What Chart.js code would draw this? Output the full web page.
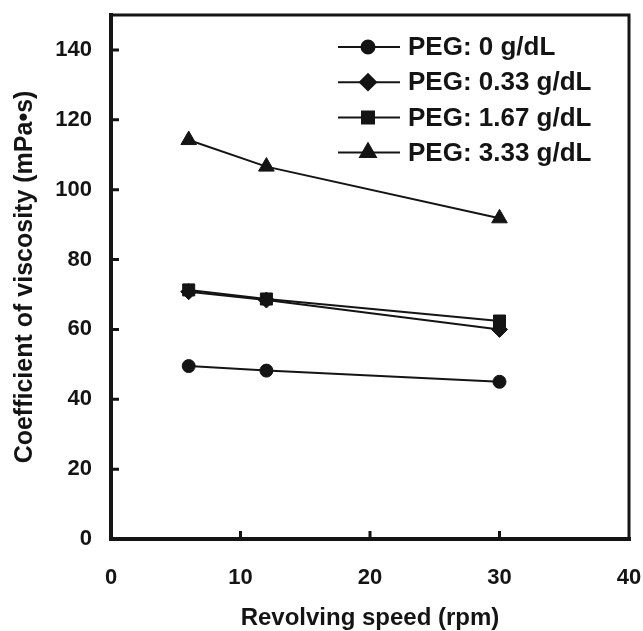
<!DOCTYPE html>
<html>
<head>
<meta charset="utf-8">
<script src="https://cdn.jsdelivr.net/npm/chart.js@4.4.1/dist/chart.umd.min.js"></script>
<style>
  html, body { margin: 0; padding: 0; background: #fff; }
</style>
</head>
<body>
<canvas id="viscosity" width="643" height="631"></canvas>
<script>
// values
var speeds = [6, 12, 30];
var peg0 = [49.5, 48.2, 45.0];
var peg033 = [70.8, 68.4, 60.0];
var peg167 = [71.3, 68.7, 62.4];
var peg333 = [114.2, 106.6, 91.8];
var seriesLabels = ['PEG: 0 g/dL', 'PEG: 0.33 g/dL', 'PEG: 1.67 g/dL', 'PEG: 3.33 g/dL'];
var xTicks = [0, 10, 20, 30, 40];
var yTicks = [0, 20, 40, 60, 80, 100, 120, 140];

var ink = '#141414';
var fontFamily = '"Liberation Sans", Arial, sans-serif';

function toPoints(values) {
  return speeds.map(function(s, i) { return {x: s, y: values[i]}; });
}

function series(label, values, style, radius) {
  return {
    label: label,
    data: toPoints(values),
    borderColor: ink,
    backgroundColor: ink,
    borderWidth: 2,
    pointStyle: style,
    pointRadius: radius,
    pointBorderWidth: 1,
    tension: 0,
    fill: false
  };
}

// box around the plot plus inward tick marks
var frame = {
  id: 'frame',
  afterDatasetsDraw: function(chart) {
    var ctx = chart.ctx, a = chart.chartArea;
    var xs = chart.scales.x, ys = chart.scales.y;
    ctx.save();
    ctx.strokeStyle = ink;
    ctx.lineCap = 'square';
    ctx.lineWidth = 3;
    ctx.beginPath();
    ctx.moveTo(a.left, a.top); ctx.lineTo(a.right, a.top); ctx.lineTo(a.right, a.bottom);
    ctx.stroke();
    ctx.lineWidth = 4;
    ctx.beginPath();
    ctx.moveTo(a.left, a.top); ctx.lineTo(a.left, a.bottom); ctx.lineTo(a.right, a.bottom);
    ctx.stroke();
    ctx.lineWidth = 3;
    ctx.lineCap = 'butt';
    ctx.beginPath();
    yTicks.slice(1).forEach(function(v) {
      var p = ys.getPixelForValue(v);
      ctx.moveTo(a.left, p); ctx.lineTo(a.left + 8, p);
    });
    xTicks.slice(1, -1).forEach(function(v) {
      var p = xs.getPixelForValue(v);
      ctx.moveTo(p, a.bottom); ctx.lineTo(p, a.bottom - 8);
    });
    ctx.stroke();
    ctx.restore();
  }
};

// legend with the marker sitting on a short line
var lineLegend = {
  id: 'lineLegend',
  afterDraw: function(chart) {
    var ctx = chart.ctx;
    ctx.save();
    chart.data.datasets.forEach(function(ds, i) {
      var y = 47 + i * 35.2;
      ctx.strokeStyle = ink;
      ctx.lineWidth = 2;
      ctx.beginPath();
      ctx.moveTo(338, y); ctx.lineTo(400, y);
      ctx.stroke();
      ctx.fillStyle = ink;
      Chart.helpers.drawPoint(ctx, {pointStyle: ds.pointStyle, radius: ds.pointRadius, borderWidth: 1}, 368, y);
      ctx.fillStyle = ink;
      ctx.font = 'bold 26px ' + fontFamily;
      ctx.textBaseline = 'middle';
      ctx.textAlign = 'left';
      ctx.fillText(ds.label, 408, y + 1);
    });
    ctx.restore();
  }
};

new Chart('viscosity', {
  type: 'line',
  data: {
    datasets: [
      series(seriesLabels[0], peg0, 'circle', 6.5),
      series(seriesLabels[1], peg033, 'rectRot', 8),
      series(seriesLabels[2], peg167, 'rect', 8.5),
      series(seriesLabels[3], peg333, 'triangle', 9)
    ]
  },
  options: {
    responsive: false,
    animation: false,
    layout: {padding: {left: 0, right: 14, top: 15, bottom: 0}},
    plugins: {legend: {display: false}, tooltip: {enabled: false}},
    scales: {
      x: {
        type: 'linear',
        min: 0,
        max: 40,
        afterBuildTicks: function(scale) { scale.ticks = xTicks.map(function(v) { return {value: v}; }); },
        afterFit: function(scale) {
          scale.height = 92;
          scale.paddingLeft = 0;
          scale.paddingRight = 0;
        },
        grid: {display: false, drawTicks: false},
        border: {display: false},
        ticks: {color: ink, padding: 26, font: {family: fontFamily, size: 22, weight: 'bold'}},
        title: {
          display: true,
          text: 'Revolving speed (rpm)',
          color: ink,
          padding: {top: 0, bottom: 1},
          font: {family: fontFamily, size: 24, weight: 'bold', lineHeight: 1}
        }
      },
      y: {
        min: 0,
        max: 150,
        afterBuildTicks: function(scale) { scale.ticks = yTicks.map(function(v) { return {value: v}; }); },
        afterFit: function(scale) {
          scale.width = 111;
          scale.paddingTop = 0;
          scale.paddingBottom = 0;
        },
        grid: {display: false, drawTicks: false},
        border: {display: false},
        ticks: {color: ink, padding: 19, font: {family: fontFamily, size: 22, weight: 'bold'}},
        title: {
          display: true,
          text: 'Coefficient of viscosity (mPa\u2022s)',
          color: ink,
          padding: {top: 13, bottom: 0},
          font: {family: fontFamily, size: 25, weight: 'bold', lineHeight: 1}
        }
      }
    }
  },
  plugins: [frame, lineLegend]
});
</script>
</body>
</html>
